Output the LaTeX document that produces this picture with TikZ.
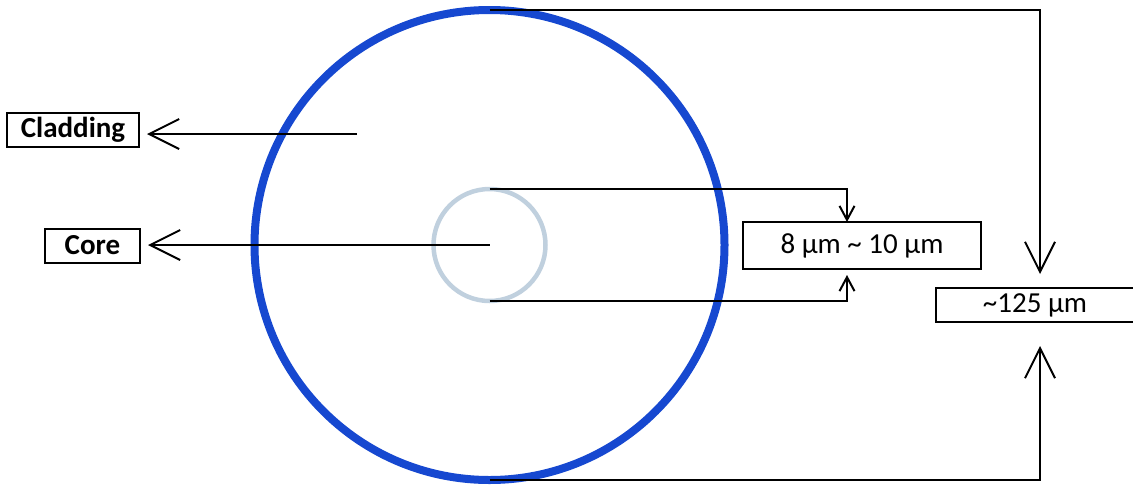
\documentclass[tikz,border=0pt]{standalone}
\usepackage{fontspec}
\setmainfont{Carlito}
\usetikzlibrary{arrows.meta}
\definecolor{cladblue}{RGB}{22,72,208}
\definecolor{coregrey}{RGB}{192,208,222}
\begin{document}
\begin{tikzpicture}[x=1pt,y=-1pt,
  conn/.style={line width=2pt, black},
  bigtip/.style={-{Straight Barb[length=30pt,width=30pt,line width=2pt]}},
  smalltip/.style={-{Straight Barb[length=14pt,width=15pt,line width=2pt]}},
  lbl/.style={draw, line width=2pt, inner sep=0pt, outer sep=0pt,
    font=\bfseries\fontsize{29}{33}\selectfont},
  dimbox/.style={draw, line width=1.5pt, inner sep=0pt, outer sep=0pt,
    font=\fontsize{29}{33}\selectfont}
]
\useasboundingbox (0,0) rectangle (1133,485);
% circles
\node[circle, draw=cladblue, line width=8pt, minimum size=470pt, inner sep=0pt, outer sep=0pt] (outer) at (489.5,245) {};
\node[circle, draw=coregrey, line width=4.5pt, minimum size=112pt, inner sep=0pt, outer sep=0pt] (inner) at (489.5,245) {};
% labels
\node[lbl, minimum width=132pt, minimum height=34pt] (clad) at (73,130) {Cladding};
\node[lbl, minimum width=95pt, minimum height=34pt] (core) at (92.5,245.5) {Core};
\node[dimbox, minimum width=238pt, minimum height=47pt] (dim) at (862,245.5) {8 µm \textasciitilde{} 10 µm};
\node[dimbox, minimum width=198pt, minimum height=34pt] (big) at (1035,305) {\textasciitilde{}125 µm};
% free end of cladding pointer
\coordinate (cladpt) at (357,134);
\coordinate (dimx) at ([xshift=-15pt]dim.north);
\coordinate (bigx) at ([xshift=5pt]big.north);
% pointers
\draw[conn, bigtip, shorten >=8pt] (cladpt) -- (cladpt -| clad.east);
\draw[conn, bigtip, shorten >=8pt] (inner.center) -- (inner.center -| core.east);
% core diameter
\draw[conn, smalltip] (inner.north) -- (inner.north -| dimx) -- (dim.north -| dimx);
\draw[conn, smalltip, shorten >=6pt] (inner.south) -- (inner.south -| dimx) -- (dim.south -| dimx);
% cladding diameter
\draw[conn, bigtip, shorten >=14pt] (outer.north) -- (outer.north -| bigx) -- (big.north -| bigx);
\draw[conn, bigtip, shorten >=24pt] (outer.south) -- (outer.south -| bigx) -- (big.south -| bigx);
\end{tikzpicture}
\end{document}
